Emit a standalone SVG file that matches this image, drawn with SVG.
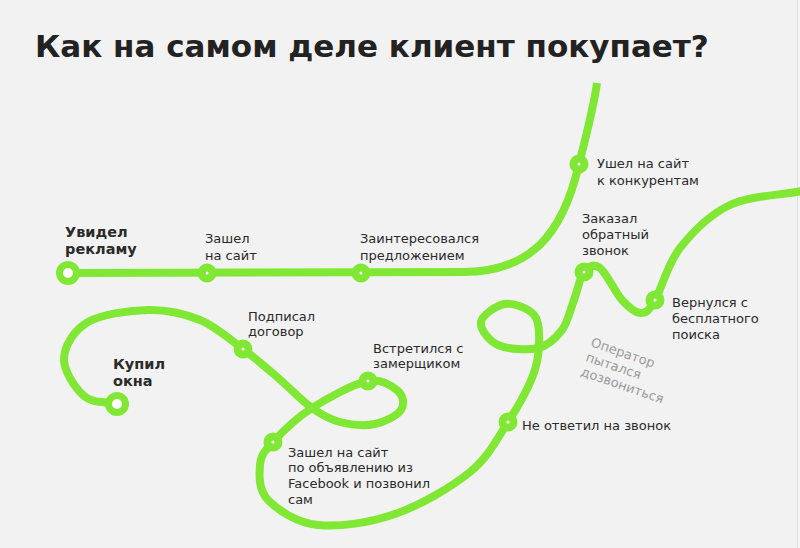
<svg xmlns="http://www.w3.org/2000/svg" width="800" height="548" viewBox="0 0 800 548">
<style>
.line{fill:none;stroke:#80e834;stroke-width:8;stroke-linecap:butt;stroke-linejoin:round}
.node{fill:#ffffff;stroke:#80e834;stroke-width:8}
.end{fill:#ffffff;stroke:#80e834;stroke-width:7}
.lbl{font-family:"DejaVu Sans",Verdana,sans-serif;font-size:13px;fill:#2a2a2a}
.bold{font-family:"DejaVu Sans",Verdana,sans-serif;font-size:14.5px;font-weight:bold;fill:#2a2a2a}
.note{font-family:"DejaVu Sans",Verdana,sans-serif;font-size:13px;fill:#9a9a9a}
.title{font-family:"DejaVu Sans",Verdana,sans-serif;font-size:31px;font-weight:bold;fill:#222222}
</style>
<rect x="0" y="0" width="800" height="548" fill="#f2f2f2"/>
<rect x="798" y="0" width="2" height="548" fill="#f5f5f5"/>
<line x1="797.5" y1="0" x2="797.5" y2="548" stroke="#e2e2e2" stroke-width="1"/>
<text class="title" x="35" y="57">Как на самом деле клиент покупает?</text>
<g id="connectors">
<path class="line" d="M68,273 L465,272 C528,271 562,238 579,164 C587,133 594,105 597,83"/>
<path class="line" d="M802,191 C778,195.7 750.3,195.5 730,205 C709.7,214.5 692.5,232.2 680,248 C667.5,263.8 661.5,289.2 655,300 C648.5,310.8 646.5,313 641,313 C635.5,313 628.8,307.5 622,300 C615.2,292.5 606.3,272.7 600,268 C593.7,263.3 588.3,266.7 584,272 C579.7,277.3 577.7,290.3 574,300 C570.3,309.7 568,322 562,330 C556,338 548.7,345.5 538,348 C527.3,350.5 507.5,349.3 498,345 C488.5,340.7 479.8,328.8 481,322 C482.2,315.2 496.2,305.2 505,304 C513.8,302.8 528.3,308.2 534,315 C539.7,321.8 539.3,334.5 539,345 C538.7,355.5 537.2,365.2 532,378 C526.8,390.8 518.3,406.3 508,422 C497.7,437.7 488.8,456.7 470,472 C451.2,487.3 420.3,505.2 395,514 C369.7,522.8 339.2,527.3 318,525 C296.8,522.7 277.7,510 268,500 C258.3,490 259.2,474.7 260,465 C260.8,455.3 264.3,451.5 273,442 C281.7,432.5 296.2,418.2 312,408 C327.8,397.8 353.7,383.8 368,381 C382.3,378.2 392.5,386.2 398,391 C403.5,395.8 404.8,404.5 401,410 C397.2,415.5 385.2,422 375,424 C364.8,426 350.5,424.7 340,422 C329.5,419.3 322.7,415.7 312,408 C301.3,400.3 287.5,385.8 276,376 C264.5,366.2 255.7,358.3 243,349 C230.3,339.7 215.8,326.5 200,320 C184.2,313.5 166.7,309.7 148,310 C129.3,310.3 102,314 88,322 C74,330 64.7,345.7 64,358 C63.3,370.3 75.2,388.3 84,396 C92.8,403.7 106,401.3 117,404"/>
</g>
<g id="n-uvidel"><circle class="end" cx="68" cy="273" r="8.5"/><text class="bold" x="65" y="237">Увидел</text><text class="bold" x="65" y="254">рекламу</text></g>
<g id="n-zashel"><circle class="node" cx="207" cy="273" r="5.5"/><text class="lbl" x="205" y="243">Зашел</text><text class="lbl" x="205" y="260">на сайт</text></g>
<g id="n-zainteresovalsya"><circle class="node" cx="361" cy="273" r="5.5"/><text class="lbl" x="360" y="243">Заинтересовался</text><text class="lbl" x="360" y="260">предложением</text></g>
<g id="n-ushel"><circle class="node" cx="579" cy="164" r="5.5"/><text class="lbl" x="597" y="168">Ушел на сайт</text><text class="lbl" x="597" y="185">к конкурентам</text></g>
<g id="n-zakazal"><circle class="node" cx="584" cy="272" r="5.5"/><text class="lbl" x="582" y="223">Заказал</text><text class="lbl" x="582" y="239">обратный</text><text class="lbl" x="582" y="255">звонок</text></g>
<g id="n-vernulsya"><circle class="node" cx="655" cy="300" r="5.5"/><text class="lbl" x="672" y="307">Вернулся с</text><text class="lbl" x="672" y="323">бесплатного</text><text class="lbl" x="672" y="339">поиска</text></g>
<g id="n-operator"><text class="note" transform="translate(590,346) rotate(19)"><tspan x="0" y="0">Оператор</tspan><tspan x="0" y="15.5">пытался</tspan><tspan x="0" y="31">дозвониться</tspan></text></g>
<g id="n-neotvetil"><circle class="node" cx="508" cy="422" r="5.5"/><text class="lbl" x="522" y="430">Не ответил на звонок</text></g>
<g id="n-facebook"><circle class="node" cx="273" cy="442" r="5.5"/><text class="lbl" x="288" y="457">Зашел на сайт</text><text class="lbl" x="288" y="472">по объявлению из</text><text class="lbl" x="288" y="488">Facebook и позвонил</text><text class="lbl" x="288" y="504">сам</text></g>
<g id="n-vstretilsya"><circle class="node" cx="368" cy="381" r="5.5"/><text class="lbl" x="373" y="353">Встретился с</text><text class="lbl" x="373" y="368">замерщиком</text></g>
<g id="n-podpisal"><circle class="node" cx="243" cy="349" r="5.5"/><text class="lbl" x="248" y="321">Подписал</text><text class="lbl" x="248" y="336">договор</text></g>
<g id="n-kupil"><circle class="end" cx="117" cy="404" r="8.5"/><text class="bold" x="113" y="369">Купил</text><text class="bold" x="113" y="386">окна</text></g>
</svg>
